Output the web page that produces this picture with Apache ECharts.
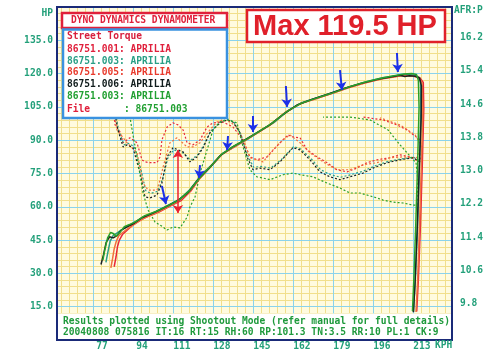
<!DOCTYPE html>
<html><head><meta charset="utf-8">
<script src="https://cdn.jsdelivr.net/npm/echarts@6/dist/echarts.min.js"></script>
<style>html,body{margin:0;padding:0;background:#fff}#c{width:500px;height:360px}</style>
</head><body><div id="c"></div>
<script>
// ---------- data ----------
const kphTicks = [77, 94, 111, 128, 145, 162, 179, 196, 213];
const afrTicks = [9.8, 10.6, 11.4, 12.2, 13.0, 13.8, 14.6, 15.4, 16.2];
const runNames = ['86751.001', '86751.003', '86751.005', '86751.006', '86751.003'];
const runMake = 'APRILIA';
const fileName = '86751.003';
const maxHp = 119.5;

// power [KPH, HP]
const power001 = [[86.0,33.0],[86.8,37.5],[87.4,42.0],[88.2,45.0],[89.5,47.5],[91.5,49.5],[94.0,51.8],[97.5,54.2],[101.0,56.0],[105.0,57.6],[110.0,60.4],[114.5,62.8],[118.5,67.0],[122.5,73.0],[126.8,77.8],[132.0,83.8],[137.5,87.2],[143.0,90.8],[148.5,94.4],[153.5,97.8],[159.5,103.0],[165.5,106.6],[172.0,108.8],[179.0,111.2],[186.0,113.8],[193.0,116.0],[200.0,117.8],[206.0,118.8],[209.5,119.3],[213.0,119.0],[215.8,118.3],[217.4,116.0],[217.6,104.0],[217.0,80.0],[216.2,52.0],[215.3,27.0],[214.6,12.8]];
const power003a = [[82.5,35.0],[83.3,39.5],[84.3,44.5],[85.6,47.2],[87.0,48.0],[88.8,49.4],[91.0,50.8],[94.2,52.8],[98.5,55.4],[103.8,57.9],[109.2,60.9],[113.8,63.4],[118.2,67.8],[122.5,73.6],[126.8,78.2],[132.0,84.0],[137.8,87.6],[143.5,91.0],[149.0,94.8],[154.0,98.0],[160.0,103.4],[166.0,107.0],[172.5,109.2],[179.5,111.6],[186.5,114.2],[193.5,116.4],[200.5,118.2],[206.5,119.2],[210.0,119.6],[213.0,119.4],[215.2,118.6],[216.2,116.4],[216.4,104.0],[215.8,80.0],[215.0,52.0],[214.0,27.0],[213.2,12.6]];
const power005 = [[84.6,32.5],[85.3,36.5],[86.0,41.0],[86.9,44.5],[88.0,47.0],[89.5,48.3],[91.8,50.2],[95.0,52.5],[99.0,55.0],[103.5,57.0],[108.5,59.8],[113.0,62.4],[117.5,66.2],[121.8,72.0],[126.0,77.0],[131.5,83.4],[137.0,87.0],[142.5,90.4],[148.0,94.0],[153.0,97.4],[159.0,102.8],[165.0,106.4],[171.5,108.6],[178.5,111.0],[185.5,113.6],[192.5,115.8],[199.5,117.6],[205.5,118.6],[209.0,119.1],[212.5,118.9],[215.5,118.2],[216.9,115.8],[217.2,103.0],[216.6,80.0],[215.8,52.0],[215.0,27.0],[214.3,12.6]];
const power006 = [[80.4,34.0],[81.5,38.5],[82.6,44.0],[84.0,46.5],[85.6,46.0],[87.2,47.0],[89.0,49.5],[91.5,51.0],[94.5,52.6],[98.0,55.2],[103.0,57.4],[108.0,60.0],[113.0,62.8],[117.5,66.5],[122.0,72.8],[126.5,77.5],[131.0,83.0],[136.0,86.8],[141.0,89.8],[146.0,93.0],[152.0,96.8],[158.0,101.8],[164.0,106.0],[170.0,108.4],[177.0,110.8],[184.0,113.4],[191.0,115.6],[198.0,117.4],[204.0,118.6],[207.5,119.3],[209.5,118.7],[211.5,119.0],[214.0,118.8],[215.8,118.0],[216.6,114.5],[216.5,100.0],[215.6,75.0],[214.8,50.0],[213.9,26.0],[213.2,12.5]];
const power003b = [[81.2,36.0],[82.0,40.5],[83.2,46.0],[84.5,48.5],[85.6,48.0],[86.8,46.8],[88.5,48.5],[90.3,51.0],[92.5,52.0],[95.5,53.5],[99.0,56.0],[104.0,58.0],[109.0,60.5],[113.5,63.0],[118.0,67.2],[122.3,73.0],[126.5,77.6],[131.5,83.5],[137.0,87.4],[142.5,90.6],[148.0,94.2],[153.0,97.6],[159.0,102.6],[165.0,106.4],[171.0,108.6],[178.0,111.0],[185.0,113.7],[192.0,116.0],[199.0,117.8],[205.0,119.0],[209.0,119.8],[212.5,120.0],[214.5,119.6],[215.3,117.0],[215.6,105.0],[215.0,80.0],[214.2,52.0],[213.4,28.0],[212.8,13.0]];

// AFR [KPH, AFR]
const afr001 = [[85.1,14.70],[86.4,14.10],[88.5,13.93],[89.8,13.67],[92.7,13.79],[95.7,13.67],[97.8,13.26],[99.1,13.21],[101.2,13.19],[104.2,13.19],[105.5,13.33],[106.3,13.74],[108.5,14.05],[111.0,14.15],[113.1,14.10],[115.3,13.98],[117.0,13.67],[119.5,13.62],[122.5,13.74],[125.5,14.05],[128.0,14.15],[132.3,14.17],[136.5,14.05],[140.8,13.74],[143.7,13.33],[146.7,13.26],[151.0,13.33],[156.5,13.67],[159.9,13.86],[162.0,13.81],[165.0,13.79],[168.0,13.50],[172.2,13.33],[176.5,13.19],[180.7,13.02],[185.0,12.97],[189.2,13.06],[193.5,13.19],[197.7,13.26],[203.2,13.31],[207.5,13.38],[211.7,13.33],[216.0,13.21],[216.8,13.50],[216.0,13.74],[210.5,13.98],[206.2,14.10],[200.3,14.22],[191.8,14.29]];
const afr003a = [[85.5,14.75],[86.8,14.30],[88.0,13.95],[90.2,13.62],[92.0,13.66],[94.5,13.58],[97.3,13.05],[99.4,12.52],[101.5,12.45],[104.5,12.50],[106.6,12.80],[108.8,13.30],[111.3,13.50],[115.5,13.42],[118.5,13.25],[121.5,13.38],[124.0,13.60],[127.0,13.95],[131.3,14.18],[134.3,14.24],[136.8,14.18],[139.8,13.88],[142.8,13.35],[145.3,13.08],[148.3,13.10],[152.5,13.06],[156.8,13.25],[162.3,13.58],[165.3,13.52],[169.5,13.30],[173.8,13.02],[178.0,12.90],[182.3,12.84],[186.5,12.90],[192.0,12.99],[196.3,13.10],[202.3,13.22],[207.8,13.28],[213.3,13.32],[215.8,13.24]];
const afr005 = [[85.5,14.58],[87.2,13.98],[91.5,13.67],[95.7,13.43],[98.3,12.70],[100.4,12.53],[104.2,12.53],[105.5,12.78],[106.8,13.09],[109.7,13.67],[112.7,13.79],[117.0,13.57],[119.5,13.57],[122.5,13.67],[126.7,13.98],[129.7,14.17],[132.3,14.22],[135.2,14.17],[138.2,14.05],[140.8,13.74],[143.7,13.31],[146.7,13.26],[149.3,13.21],[153.5,13.50],[157.8,13.74],[160.7,13.86],[165.0,13.67],[169.2,13.43],[174.8,13.21],[180.7,13.02],[186.2,13.02],[191.8,13.14],[197.7,13.19],[203.2,13.31],[208.8,13.33],[214.7,13.31],[216.4,13.62],[213.9,13.86],[207.5,14.10],[199.0,14.27]];
const afr006 = [[85.1,14.82],[86.4,14.34],[87.6,13.98],[89.8,13.57],[91.5,13.62],[94.0,13.55],[97.0,12.94],[99.1,12.37],[101.2,12.34],[104.2,12.41],[106.3,12.70],[108.5,13.33],[111.0,13.55],[115.3,13.45],[118.2,13.21],[121.2,13.33],[123.8,13.55],[126.7,13.91],[131.0,14.15],[134.0,14.22],[136.5,14.17],[139.5,13.91],[142.5,13.33],[145.0,13.02],[148.0,13.06],[152.2,13.02],[156.5,13.21],[162.0,13.55],[165.0,13.50],[169.2,13.26],[173.5,12.97],[177.7,12.85],[182.0,12.78],[186.2,12.85],[191.8,12.94],[196.0,13.06],[202.0,13.19],[207.5,13.26],[213.0,13.31],[216.0,13.21]];
const afr003b = [[92.0,14.70],[92.7,14.29],[94.0,13.86],[95.7,13.33],[98.3,12.46],[100.4,12.05],[103.4,11.76],[105.5,11.69],[108.5,11.57],[111.0,11.64],[114.0,11.62],[117.0,11.88],[118.2,12.12],[120.4,12.37],[122.5,12.94],[125.5,13.50],[128.0,13.98],[131.0,14.17],[134.0,14.22],[138.2,14.15],[140.8,13.57],[143.7,13.02],[146.7,12.85],[149.3,12.82],[152.2,12.78],[157.8,12.90],[162.0,12.94],[165.0,12.90],[170.5,12.85],[176.5,12.70],[182.0,12.58],[186.2,12.46],[190.5,12.46],[196.0,12.37],[200.3,12.29],[204.5,12.24],[208.8,12.22],[213.0,12.17],[214.7,12.17],[215.1,12.78],[214.3,13.19],[207.5,13.62],[202.4,13.98],[194.8,14.22],[186.2,14.29],[174.8,14.29]];

// annotation arrows [x1, y1, x2, y2] in KPH / HP
const blueArrows = [[106.3,69.4,108.0,61.3],[122.5,78.8,122.0,73.0],[134.4,91.9,134.0,85.6],[145.0,100.9,145.0,93.7],[159.0,114.4,159.5,105.0],[182.0,121.6,182.8,112.6],[206.2,129.3,206.6,120.7]];
const redArrow = [113.1, 85.6, 113.1, 57.2];

// ---------- styling / layout ----------
const powerSets = [power001, power003a, power005, power006, power003b];
const afrSets = [afr001, afr003a, afr005, afr006, afr003b];
const runColors = ['#e8283a', '#2a9f86', '#f0703e', '#1a2222', '#2aa02a'];
const legendColors = ['#e0203c', '#2a9f86', '#e83a2c', '#101c1c', '#22a032'];
const X_MIN = 61.7, X_MAX = 229.6;
const labelColor = '#23a07a';
const MONO = '"DejaVu Sans Mono", "Liberation Mono", monospace';
const minorX = [];
for (let v = 77 - 3.4 * 4; v < X_MAX; v += 3.4) minorX.push(Math.round(v * 10) / 10);

const series = [];
afrSets.forEach((d, i) => series.push({
  type: 'line', xAxisIndex: 0, yAxisIndex: 1, data: d, symbol: 'none', z: 5,
  lineStyle: { color: runColors[i], width: 1.2, type: [2, 2] }, animation: false
}));
powerSets.forEach((d, i) => series.push({
  type: 'line', xAxisIndex: 0, yAxisIndex: 0, data: d, symbol: 'none', z: 6,
  lineStyle: { color: runColors[i], width: 1.5 }, animation: false
}));
series.push({
  type: 'lines', coordinateSystem: 'cartesian2d', xAxisIndex: 0, yAxisIndex: 0, z: 8,
  data: blueArrows.map(a => ({ coords: [[a[0], a[1]], [a[2], a[3]]] })),
  symbol: ['none', 'arrow'], symbolSize: 8,
  lineStyle: { color: '#1c30e8', width: 2, opacity: 1, curveness: 0 }, animation: false
});
series.push({
  type: 'lines', coordinateSystem: 'cartesian2d', xAxisIndex: 0, yAxisIndex: 0, z: 8,
  data: [{ coords: [[redArrow[0], redArrow[1]], [redArrow[2], redArrow[3]]] }],
  symbol: ['arrow', 'arrow'], symbolSize: 8,
  lineStyle: { color: '#e82030', width: 1.5, opacity: 1, curveness: 0 }, animation: false
});

const legendLines = ['Street Torque'].concat(runNames.map(n => n + ': ' + runMake));
const legendCols = ['#d81e3c'].concat(legendColors);
const legendYs = [36, 49, 61, 72.5, 84, 96];
const graphics = [
  { type: 'rect', z: 30, shape: { x: 58, y: 313.5, width: 393, height: 25.5 }, style: { fill: '#ffffff' } },
  { type: 'text', z: 31, x: 63, y: 321, style: { text: 'Results plotted using Shootout Mode (refer manual for full details)', font: 'bold 9.6px ' + MONO, fill: '#1f9a3c', verticalAlign: 'middle' } },
  { type: 'text', z: 31, x: 63, y: 332, style: { text: '20040808 075816 IT:16 RT:15 RH:60 RP:101.3 TN:3.5 RR:10 PL:1 CK:9', font: 'bold 9.6px ' + MONO, fill: '#1f9a3c', verticalAlign: 'middle' } },
  { type: 'rect', z: 40, shape: { x: 57, y: 7, width: 395, height: 333 }, style: { fill: 'none', stroke: '#1a2a78', lineWidth: 2 } },
  // title box
  { type: 'rect', z: 41, shape: { x: 62, y: 13, width: 165, height: 15 }, style: { fill: '#ffffff', stroke: '#e0203a', lineWidth: 2.5 } },
  { type: 'text', z: 42, x: 71, y: 20.5, style: { text: 'DYNO DYNAMICS DYNAMOMETER', font: 'bold 9.6px ' + MONO, fill: '#e0203a', verticalAlign: 'middle' } },
  // legend box
  { type: 'rect', z: 41, shape: { x: 63, y: 29.5, width: 164, height: 88.5 }, style: { fill: '#ffffff', stroke: '#3a92e0', lineWidth: 2.5 } },
  { type: 'text', z: 42, x: 67, y: 109, style: { text: 'File', font: 'bold 9.6px ' + MONO, fill: '#e0203c', verticalAlign: 'middle' } },
  { type: 'text', z: 42, x: 124, y: 109, style: { text: ': ' + fileName, font: 'bold 9.6px ' + MONO, fill: '#22a032', verticalAlign: 'middle' } },
  // max box
  { type: 'rect', z: 41, shape: { x: 247, y: 10, width: 198, height: 32 }, style: { fill: '#ffffff', stroke: '#e0202a', lineWidth: 2.5 } },
  { type: 'text', z: 42, x: 345, y: 26.5, style: { text: 'Max ' + maxHp.toFixed(1) + ' HP', font: 'bold 29px "Liberation Sans", Arial, sans-serif', fill: '#e0202a', align: 'center', verticalAlign: 'middle' } },
  // axis captions
  { type: 'text', z: 42, x: 53, y: 13, style: { text: 'HP', font: 'bold 9.6px ' + MONO, fill: labelColor, align: 'right', verticalAlign: 'middle' } },
  { type: 'text', z: 42, x: 454, y: 10, style: { text: 'AFR:P', font: 'bold 9.6px ' + MONO, fill: labelColor, verticalAlign: 'middle' } },
  { type: 'text', z: 42, x: 435, y: 345, style: { text: 'KPH', font: 'bold 9.6px ' + MONO, fill: labelColor, verticalAlign: 'middle' } }
];
legendLines.forEach((t, i) => graphics.push({
  type: 'text', z: 42, x: 67, y: legendYs[i],
  style: { text: t, font: 'bold 9.6px ' + MONO, fill: legendCols[i], verticalAlign: 'middle' }
}));

const chart = echarts.init(document.getElementById('c'), null, { renderer: 'canvas' });
chart.setOption({
  animation: false,
  backgroundColor: '#ffffff',
  grid: { left: 57, top: 7, width: 395, height: 333, show: true, backgroundColor: '#fffbdf', borderWidth: 0, z: 0 },
  xAxis: [
    { type: 'value', min: X_MIN, max: X_MAX, position: 'bottom', z: 2,
      axisLine: { show: false }, axisTick: { show: false, customValues: kphTicks },
      axisLabel: { customValues: kphTicks, color: labelColor, fontFamily: MONO, fontWeight: 'bold', fontSize: 9.6, margin: 1, padding: [0, 0, 0, 18], formatter: v => String(v) },
      splitLine: { show: true, lineStyle: { color: '#8ad3ec', width: 1 } } },
    { type: 'value', min: X_MIN, max: X_MAX, position: 'top', z: 1,
      axisLine: { show: false }, axisTick: { show: false, customValues: minorX }, axisLabel: { show: false },
      splitLine: { show: true, lineStyle: { color: '#f1df8c', width: 1 } } }
  ],
  yAxis: [
    { type: 'value', min: 0, max: 150, interval: 15, position: 'left', z: 2,
      axisLine: { show: false }, axisTick: { show: false },
      axisLabel: { showMinLabel: false, showMaxLabel: false, color: labelColor, fontFamily: MONO, fontWeight: 'bold', fontSize: 9.6, margin: 4, formatter: v => v.toFixed(1) },
      splitLine: { show: true, showMinLine: false, showMaxLine: false, lineStyle: { color: '#8ad3ec', width: 1 } } },
    { type: 'value', min: 8.92, max: 16.94, position: 'right', z: 2,
      axisLine: { show: false }, axisTick: { show: false, customValues: afrTicks },
      axisLabel: { customValues: afrTicks, color: labelColor, fontFamily: MONO, fontWeight: 'bold', fontSize: 9.6, margin: 8, formatter: v => v.toFixed(1) },
      splitLine: { show: false } },
    { type: 'value', min: 0, max: 150, interval: 3, position: 'left', z: 1,
      axisLine: { show: false }, axisTick: { show: false }, axisLabel: { show: false },
      splitLine: { show: true, showMinLine: false, showMaxLine: false, lineStyle: { color: '#f1df8c', width: 1 } } }
  ],
  series: series,
  graphic: graphics
});
</script></body></html>
